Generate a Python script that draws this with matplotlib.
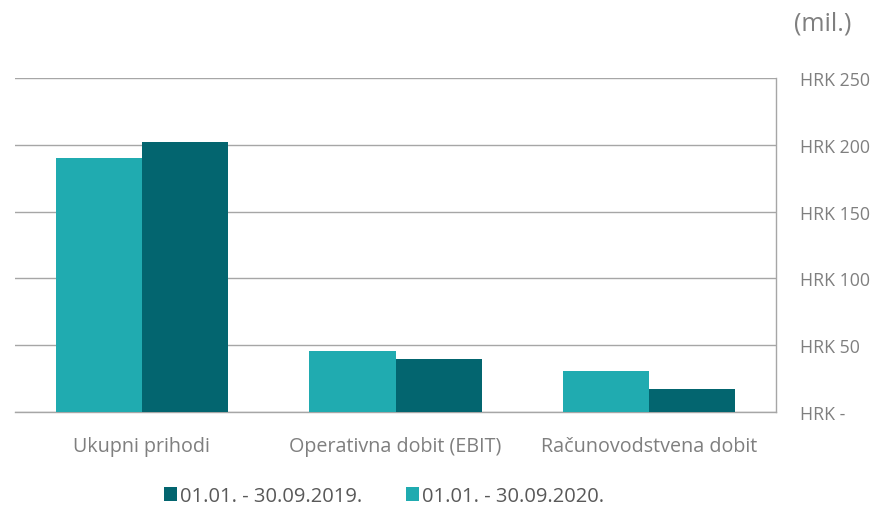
import matplotlib
matplotlib.use("Agg")
import matplotlib.pyplot as plt
import numpy as np

categories = ["Ukupni prihodi", "Operativna dobit (EBIT)", "Računovodstvena dobit"]
series_2019 = [202, 40, 17]
series_2020 = [190, 46, 31]
label_2019 = "01.01. - 30.09.2019."
label_2020 = "01.01. - 30.09.2020."
yticks = [0, 50, 100, 150, 200, 250]
ytick_labels = ["HRK -", "HRK 50", "HRK 100", "HRK 150", "HRK 200", "HRK 250"]

plt.rcParams['font.family'] = ['Open Sans', 'DejaVu Sans']
txt = '#7f7f7f'
c2019 = '#03656f'
c2020 = '#20abb0'

fig = plt.figure(figsize=(8.83, 5.06), dpi=100)
ax = fig.add_axes([15/883, 1-413/506, 761/883, 334/506])

x = np.arange(len(categories))
w = 0.34
b20 = ax.bar(x - w/2, series_2020, w, color=c2020, label=label_2020, zorder=3)
b19 = ax.bar(x + w/2, series_2019, w, color=c2019, label=label_2019, zorder=3)

ax.set_xlim(-0.5, 2.5)
ax.set_ylim(0, 250)
ax.yaxis.tick_right()
ax.set_yticks(yticks)
ax.set_yticklabels(ytick_labels, color=txt, fontsize=12.8)
ax.set_xticks(x)
ax.set_xticklabels(categories, color=txt, fontsize=14.2)
ax.tick_params(axis='both', length=0)
ax.tick_params(axis='y', pad=17)
ax.tick_params(axis='x', pad=17)
ax.grid(axis='y', color='#a6a6a6', linewidth=1, zorder=0)
for s in ['top', 'left']:
    ax.spines[s].set_visible(False)
for s in ['right', 'bottom']:
    ax.spines[s].set_color('#a6a6a6')
    ax.spines[s].set_linewidth(1)

fig.text(851/883, 1-24/506, "(mil.)", color=txt, fontsize=18, ha='right', va='center')

leg = fig.legend(handles=[b19, b20], labels=[label_2019, label_2020], loc='center',
                 bbox_to_anchor=(384/883, 1-497/506), ncol=2, frameon=False,
                 fontsize=14.5, handlelength=0.65, handleheight=0.65, handletextpad=0.15,
                 columnspacing=2.2)
for t in leg.get_texts():
    t.set_color('#595959')

fig.savefig("out.png", dpi=100)
